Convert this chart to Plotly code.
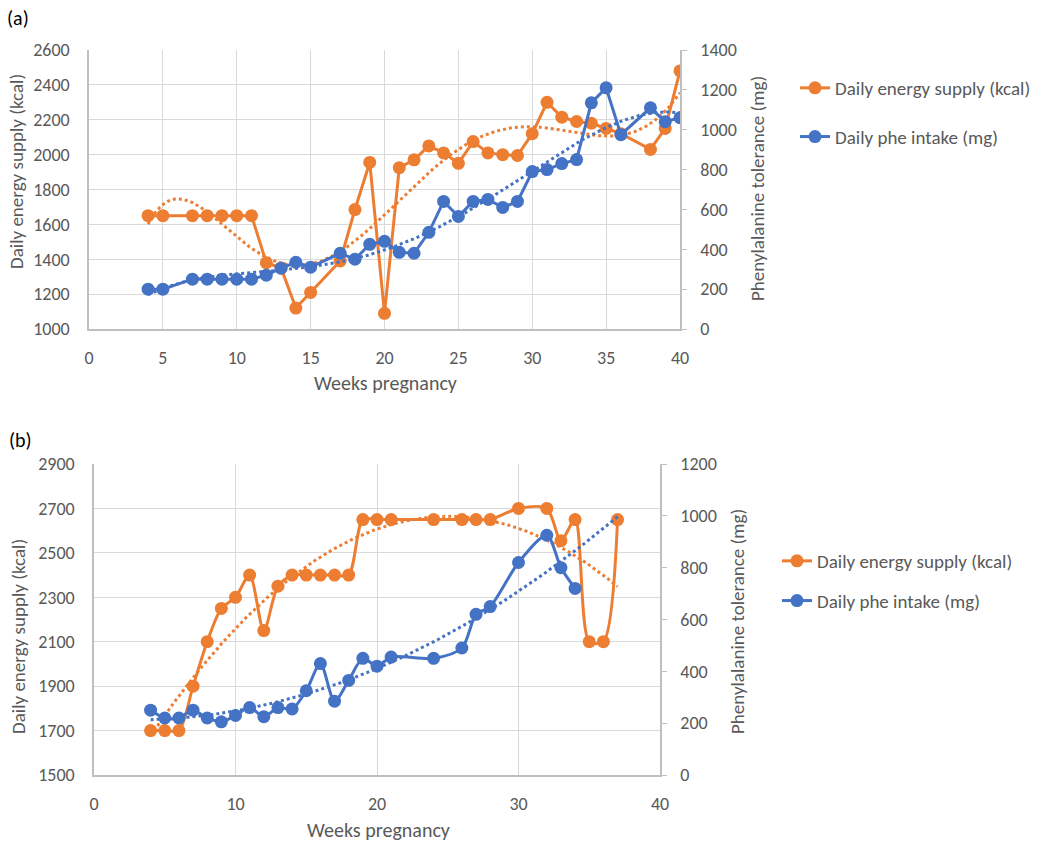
import numpy as np
import plotly.graph_objects as go

# ---------------- Data: panel (a) ----------------
a_weeks = [4, 5, 7, 8, 9, 10, 11, 12, 13, 14, 15, 17, 18, 19, 20, 21, 22, 23, 24, 25,
           26, 27, 28, 29, 30, 31, 32, 33, 34, 35, 36, 38, 39, 40]
a_energy = [1650, 1650, 1650, 1650, 1650, 1650, 1650, 1380, 1350, 1120, 1210, 1390, 1685,
            1955, 1090, 1925, 1970, 2050, 2010, 1950, 2075, 2010, 2000, 1995, 2120, 2300,
            2215, 2190, 2180, 2150, 2120, 2030, 2150, 2480]
a_phe = [200, 200, 250, 250, 250, 250, 250, 270, 305, 335, 310, 380, 350, 425, 440, 385,
         380, 485, 640, 565, 640, 650, 610, 640, 790, 800, 830, 850, 1135, 1210, 975,
         1110, 1040, 1060]

# ---------------- Data: panel (b) ----------------
b_weeks_energy = [4, 5, 6, 7, 8, 9, 10, 11, 12, 13, 14, 15, 16, 17, 18, 19, 20, 21, 24,
                  26, 27, 28, 30, 32, 33, 34, 35, 36, 37]
b_energy = [1700, 1700, 1700, 1900, 2100, 2250, 2300, 2400, 2150, 2350, 2400, 2400, 2400,
            2400, 2400, 2650, 2650, 2650, 2650, 2650, 2650, 2650, 2700, 2700, 2555, 2650,
            2100, 2100, 2650]
b_weeks_phe = [4, 5, 6, 7, 8, 9, 10, 11, 12, 13, 14, 15, 16, 17, 18, 19, 20, 21, 24, 26,
               27, 28, 30, 32, 33, 34]
b_phe = [250, 220, 220, 250, 220, 205, 230, 260, 225, 260, 255, 325, 430, 285, 365, 450,
         420, 455, 450, 490, 620, 650, 820, 925, 800, 720]

# labels
x_title = "Weeks pregnancy"
y_left_title = "Daily energy supply (kcal)"
y_right_title = "Phenylalanine tolerance (mg)"
name_energy = "Daily energy supply (kcal)"
name_phe = "Daily phe intake (mg)"

ORANGE = "#ED7D31"
BLUE = "#4472C4"
GRID = "#D9D9D9"
AXL = "#BFBFBF"
TXT = "#595959"
FONT = "Carlito, Calibri, Lato, sans-serif"

W, H = 1040, 847


def px_x(p):
    return p / W


def px_y(p):
    return 1 - p / H


def trend(xs, ys, deg, x0, x1):
    c = np.polyfit(xs, ys, deg)
    xx = np.linspace(x0, x1, 300)
    return xx, np.polyval(c, xx)


fig = go.Figure()

# ---- panel (a) ----
tx, ty = trend(a_weeks, a_energy, 6, 4, 40)
fig.add_trace(go.Scatter(x=tx, y=ty, mode="lines", xaxis="x", yaxis="y",
                         line=dict(color=ORANGE, width=3, dash="dot"),
                         showlegend=False, hoverinfo="skip"))
tx, ty = trend(a_weeks, a_phe, 4, 4, 40)
fig.add_trace(go.Scatter(x=tx, y=ty, mode="lines", xaxis="x", yaxis="y2",
                         line=dict(color=BLUE, width=3, dash="dot"),
                         showlegend=False, hoverinfo="skip"))
fig.add_trace(go.Scatter(x=a_weeks, y=a_energy, mode="lines+markers", name=name_energy,
                         xaxis="x", yaxis="y", legend="legend", legendgroup="ea",
                         line=dict(color=ORANGE, width=3), marker=dict(size=13, color=ORANGE)))
fig.add_trace(go.Scatter(x=a_weeks, y=a_phe, mode="lines+markers", name=name_phe,
                         xaxis="x", yaxis="y2", legend="legend", legendgroup="pa",
                         line=dict(color=BLUE, width=3), marker=dict(size=13, color=BLUE)))

# ---- panel (b) ----
tx, ty = trend(b_weeks_energy, b_energy, 2, 4, 37)
fig.add_trace(go.Scatter(x=tx, y=ty, mode="lines", xaxis="x2", yaxis="y3",
                         line=dict(color=ORANGE, width=3, dash="dot"),
                         showlegend=False, hoverinfo="skip"))
tx, ty = trend(b_weeks_phe, b_phe, 2, 4, 37)
fig.add_trace(go.Scatter(x=tx, y=ty, mode="lines", xaxis="x2", yaxis="y4",
                         line=dict(color=BLUE, width=3, dash="dot"),
                         showlegend=False, hoverinfo="skip"))
fig.add_trace(go.Scatter(x=b_weeks_energy, y=b_energy, mode="lines+markers", name=name_energy,
                         xaxis="x2", yaxis="y3", legend="legend2", legendgroup="eb",
                         line=dict(color=ORANGE, width=3, shape="spline", smoothing=0.8),
                         marker=dict(size=13, color=ORANGE)))
fig.add_trace(go.Scatter(x=b_weeks_phe, y=b_phe, mode="lines+markers", name=name_phe,
                         xaxis="x2", yaxis="y4", legend="legend2", legendgroup="pb",
                         line=dict(color=BLUE, width=3, shape="spline", smoothing=0.8),
                         marker=dict(size=13, color=BLUE)))

tickfont = dict(family=FONT, size=18, color=TXT)

common_x = dict(showgrid=True, gridcolor=GRID, gridwidth=1, showline=True, linecolor=AXL,
                linewidth=1.5, ticks="", zeroline=False, tickfont=tickfont,
                ticklabelstandoff=12, fixedrange=True, automargin=False)
common_yl = dict(showgrid=True, gridcolor=GRID, gridwidth=1, showline=True, linecolor=AXL,
                 linewidth=1.5, ticks="", zeroline=False, tickfont=tickfont,
                 ticklabelstandoff=14, fixedrange=True, automargin=False)
common_yr = dict(showgrid=False, showline=True, linecolor=AXL, linewidth=1.5,
                 ticks="outside", ticklen=5, tickcolor=AXL, zeroline=False,
                 tickfont=tickfont, ticklabelstandoff=10, fixedrange=True, automargin=False)

fig.update_layout(
    width=W, height=H,
    margin=dict(l=0, r=0, t=0, b=0, autoexpand=False),
    paper_bgcolor="white", plot_bgcolor="white",
    font=dict(family=FONT, size=18, color=TXT),
    xaxis=dict(domain=[px_x(89), px_x(680)], range=[0, 40], dtick=5, tick0=0, anchor="y", **common_x),
    yaxis=dict(domain=[px_y(329), px_y(50)], range=[1000, 2600], dtick=200, tick0=1000,
               anchor="x", **common_yl),
    yaxis2=dict(overlaying="y", side="right", anchor="x", range=[0, 1400], dtick=200, tick0=0,
                **common_yr),
    xaxis2=dict(domain=[px_x(94), px_x(660)], range=[0, 40], dtick=10, tick0=0, anchor="y3",
                **common_x),
    yaxis3=dict(domain=[px_y(775), px_y(464)], range=[1500, 2900], dtick=200, tick0=1500,
                anchor="x2", **common_yl),
    yaxis4=dict(overlaying="y3", side="right", anchor="x2", range=[0, 1200], dtick=200, tick0=0,
                **common_yr),
    legend=dict(x=px_x(795), y=px_y(69), xanchor="left", yanchor="top",
                font=dict(family=FONT, size=19, color=TXT), tracegroupgap=21,
                bgcolor="rgba(0,0,0,0)"),
    legend2=dict(x=px_x(777), y=px_y(542), xanchor="left", yanchor="top",
                 font=dict(family=FONT, size=19, color=TXT), tracegroupgap=12,
                 bgcolor="rgba(0,0,0,0)"),
    showlegend=True,
)

annotations = [
    dict(text="(a)", x=px_x(5), y=px_y(18), xanchor="left", yanchor="middle",
         font=dict(family=FONT, size=20, color="black")),
    dict(text="(b)", x=px_x(7), y=px_y(440), xanchor="left", yanchor="middle",
         font=dict(family=FONT, size=20, color="black")),
    # panel (a) axis titles
    dict(text=x_title, x=px_x(385), y=px_y(383), xanchor="center", yanchor="middle",
         font=dict(family=FONT, size=20, color=TXT)),
    dict(text=y_left_title, x=px_x(16), y=px_y(172), xanchor="center", yanchor="middle",
         textangle=-90, font=dict(family=FONT, size=19, color=TXT)),
    dict(text=y_right_title, x=px_x(757), y=px_y(189), xanchor="center", yanchor="middle",
         textangle=-90, font=dict(family=FONT, size=19, color=TXT)),
    # panel (b) axis titles
    dict(text=x_title, x=px_x(378), y=px_y(830), xanchor="center", yanchor="middle",
         font=dict(family=FONT, size=20, color=TXT)),
    dict(text=y_left_title, x=px_x(18), y=px_y(637), xanchor="center", yanchor="middle",
         textangle=-90, font=dict(family=FONT, size=19, color=TXT)),
    dict(text=y_right_title, x=px_x(737), y=px_y(622), xanchor="center", yanchor="middle",
         textangle=-90, font=dict(family=FONT, size=19, color=TXT)),
]
for a in annotations:
    a.update(xref="paper", yref="paper", showarrow=False)
fig.update_layout(annotations=annotations)

# remove the default 8px page margin so the figure fills the 1040x847 window exactly
fig.write_html("out.html", config={"displayModeBar": False},
               post_script="document.body.style.margin='0';document.body.style.overflow='hidden';")
